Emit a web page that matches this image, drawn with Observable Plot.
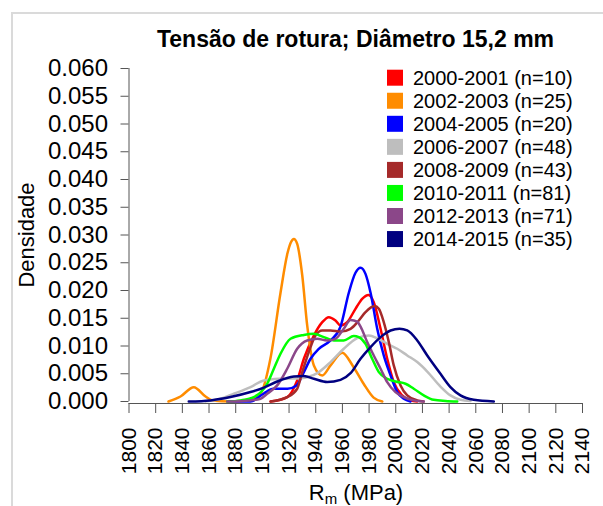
<!DOCTYPE html>
<html><head><meta charset="utf-8">
<script src="https://cdn.jsdelivr.net/npm/d3@7"></script>
<script src="https://cdn.jsdelivr.net/npm/@observablehq/plot@0.6"></script>
<style>
html,body{margin:0;padding:0;background:#fff;}
#wrap{position:relative;width:603px;height:506px;overflow:hidden;}
#border{position:absolute;left:11px;top:12px;width:600px;height:500px;border-top:2px solid #dadada;border-left:2px solid #dadada;pointer-events:none;}
#wrap svg{position:absolute;left:0;top:0;}
</style></head><body><div id="wrap"><div id="border"></div></div>
<script>
const titleText = "Tensão de rotura; Diâmetro 15,2 mm";
const seriesNames = ["2000-2001 (n=10)","2002-2003 (n=25)","2004-2005 (n=20)","2006-2007 (n=48)","2008-2009 (n=43)","2010-2011 (n=81)","2012-2013 (n=71)","2014-2015 (n=35)"];
const seriesColors = ["#FF0000","#FF8C00","#0000FF","#BEBEBE","#A52A2A","#00FF00","#8B4789","#000080"];
const xTicks = [1800,1820,1840,1860,1880,1900,1920,1940,1960,1980,2000,2020,2040,2060,2080,2100,2120,2140];
const yTicks = [0,0.005,0.010,0.015,0.020,0.025,0.030,0.035,0.040,0.045,0.050,0.055,0.060];

const x2000 = [1906.1,1918.6,1926.1,1931.1,1938.6,1944.9,1949.8,1954.8,1958.6,1963.6,1969.8,1974.8,1979.6,1983.5,1988.6,1993.6,1998.5,2004.8,2011,2016.1];
const y2000 = [0,0.0008,0.0038,0.0077,0.0119,0.0143,0.0152,0.0146,0.0137,0.0143,0.0167,0.0185,0.0192,0.0179,0.0131,0.0077,0.0035,0.0011,0.0002,0];

const x2002 = [1829.6,1838.6,1848.6,1857.4,1862.6,1876,1891,1898.6,1906,1913.6,1918.9,1921.4,1923.6,1926.1,1929.9,1933.6,1938.6,1944.9,1951.1,1959.9,1967.6,1975.9,1983.4,1989.9];
const y2002 = [0,0.0009,0.00258,0.0009,0.0002,0,0.0004,0.0014,0.0077,0.0196,0.0268,0.0287,0.0293,0.0284,0.0227,0.0137,0.0065,0.0047,0.0065,0.0088,0.0065,0.0032,0.0007,0];

const x2004 = [1874.6,1891.1,1900.8,1908.3,1918.8,1925.6,1931.1,1936.1,1942.3,1951.1,1958.6,1964.8,1969.8,1973.6,1977.3,1981.1,1986.1,1991,1996.1,2001.1,2006,2011];
const y2004 = [0,0,0.0014,0.0023,0.0023,0.0029,0.0053,0.0077,0.0095,0.011,0.0135,0.0196,0.0232,0.0241,0.023,0.0196,0.0131,0.0083,0.0047,0.0017,0.0005,0];

const x2006 = [1857.4,1868.6,1878.6,1891.1,1901.1,1913.6,1928.6,1941.1,1951.1,1961,1971.1,1979.8,1986.1,1993.6,2001.1,2008.6,2016.1,2023.6,2033.5,2041,2048.5,2056];
const y2006 = [0,0.0005,0.0014,0.0026,0.0038,0.0041,0.0042,0.0051,0.0071,0.0095,0.0114,0.0119,0.0114,0.0104,0.0095,0.0083,0.0071,0.0054,0.0027,0.0011,0.0003,0.0001];

const x2008 = [1906.1,1918.6,1926.1,1929.9,1934.8,1939.8,1944.9,1951.1,1958.6,1966.1,1972.3,1977.3,1984.1,1987.3,1991,1994.8,1998.5,2003.6,2008.6,2016.1,2021];
const y2008 = [0,0.0008,0.0023,0.0053,0.0089,0.0119,0.0128,0.0128,0.0126,0.0131,0.0146,0.0161,0.0172,0.0167,0.0143,0.0107,0.0065,0.0029,0.0011,0.0002,0];

const x2010 = [1873.6,1883.6,1893.6,1903.6,1908.6,1913.6,1921.1,1931.1,1938.6,1946.1,1953.5,1961,1968.5,1972.3,1977.3,1982.3,1987.3,1993.6,1999.8,2007.3,2013.5,2021,2028.5,2037.3,2046.1];
const y2010 = [0,0.0002,0.0008,0.0032,0.0059,0.0086,0.0113,0.012,0.0122,0.0116,0.011,0.011,0.0118,0.0116,0.0104,0.0077,0.0053,0.0041,0.0036,0.0032,0.0023,0.0011,0.0003,0.0001,0];

const x2012 = [1873.6,1891.1,1898.6,1903.6,1911.1,1918.6,1926.1,1933.6,1941.1,1948.6,1954.8,1961,1966.1,1971.1,1973.6,1978.6,1983.5,1988.6,1993.6,1999.8,2006,2013.5,2021];
const y2012 = [0,0.0002,0.0005,0.0014,0.0029,0.0059,0.0095,0.011,0.0113,0.011,0.0113,0.0131,0.0147,0.0144,0.0135,0.0107,0.0083,0.0059,0.0035,0.0017,0.0008,0.0002,0];

const x2014 = [1844.8,1861.1,1876.1,1891.1,1901.1,1911.1,1923.6,1931.1,1938.6,1948.6,1958.6,1966.1,1973.6,1981.1,1988.6,1996.1,2002.8,2008.6,2016.1,2023.6,2033.5,2041,2048.5,2058.5,2073.5];
const y2014 = [0,0.0002,0.0008,0.0017,0.0025,0.0036,0.0045,0.0046,0.0041,0.0035,0.0039,0.0051,0.0077,0.0098,0.0116,0.0128,0.0131,0.0128,0.011,0.0083,0.005,0.0026,0.0011,0.0003,0];

const seriesX = [x2000,x2002,x2004,x2006,x2008,x2010,x2012,x2014];
const seriesY = [y2000,y2002,y2004,y2006,y2008,y2010,y2012,y2014];

const rows = [];
seriesNames.forEach((name, i) => {
  seriesX[i].forEach((xv, j) => rows.push({series: name, x: xv, y: seriesY[i][j]}));
});

const FONT = "'Liberation Sans', Arial, sans-serif";
const axisCol = "#555";

const chart = Plot.plot({
  width: 603,
  height: 506,
  marginLeft: 128.5,
  marginRight: 21,
  marginTop: 68,
  marginBottom: 103,
  style: {fontFamily: FONT, background: "transparent", color: "#000"},
  x: {domain: [1800, 2140]},
  y: {domain: [0, 0.06], range: [401, 68]},
  color: {domain: seriesNames, range: seriesColors},
  marks: [
    Plot.axisY({ticks: yTicks, tickFormat: d3.format(".3f"), tickSize: 8, tickPadding: 13, fontSize: 24, label: null, stroke: axisCol, fill: "#000"}),
    Plot.axisX({ticks: xTicks, tickFormat: d => String(d), tickSize: 10, tickPadding: 14, tickRotate: -90, fontSize: 21, label: null, stroke: axisCol, fill: "#000"}),
    Plot.frame({anchor: "bottom", stroke: axisCol}),
    Plot.ruleX([1800], {y1: 0, y2: 0.06, stroke: axisCol}),
    Plot.line(rows, {x: "x", y: "y", z: "series", stroke: "series", curve: "monotone-x", strokeWidth: 2.5})
  ]
});

const svg = d3.select(chart);
svg.append("text")
  .attr("x", 355.5).attr("y", 47)
  .attr("text-anchor", "middle")
  .attr("font-family", FONT).attr("font-weight", "bold").attr("font-size", 23)
  .attr("fill", "#000")
  .text(titleText);

svg.append("text")
  .attr("transform", "translate(34,235) rotate(-90)")
  .attr("text-anchor", "middle")
  .attr("font-family", FONT).attr("font-size", 22)
  .attr("fill", "#000")
  .text("Densidade");

const xl = svg.append("text")
  .attr("x", 356).attr("y", 500)
  .attr("text-anchor", "middle")
  .attr("font-family", FONT).attr("font-size", 22)
  .attr("fill", "#000");
xl.append("tspan").text("R");
xl.append("tspan").attr("font-size", 15).attr("dy", 4).text("m");
xl.append("tspan").attr("dy", -4).text(" (MPa)");

const lg = svg.append("g").attr("text-anchor", "start");
seriesNames.forEach((name, i) => {
  const cy = 77.7 + i * 23.05;
  lg.append("rect").attr("x", 387).attr("y", cy - 8).attr("width", 16).attr("height", 16).attr("fill", seriesColors[i]);
  lg.append("text").attr("x", 413).attr("y", cy).attr("dy", "0.35em").attr("text-anchor", "start")
    .attr("font-family", FONT).attr("font-size", 20).attr("fill", "#000").text(name);
});

document.getElementById("wrap").appendChild(chart);
</script>
</body></html>
